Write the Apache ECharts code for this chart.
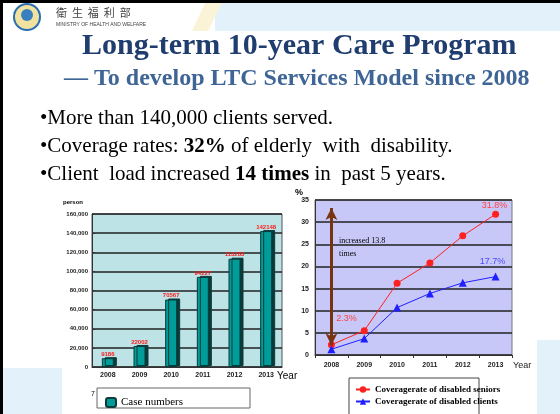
<!DOCTYPE html>
<html>
<head>
<meta charset="utf-8">
<script src="https://cdn.jsdelivr.net/npm/echarts@6/dist/echarts.min.js"></script>
<style>
  html, body { margin: 0; padding: 0; background: #fff; }
  #main { width: 560px; height: 414px; }
</style>
</head>
<body>
<div id="main"></div>
<script>
// data
const years = ['2008', '2009', '2010', '2011', '2012', '2013'];
const caseNumbers = [9186, 22002, 70567, 94227, 113283, 142148];
const seniorRate = [2.3, 5.5, 16.2, 20.8, 26.9, 31.8];
const clientRate = [1.3, 3.7, 10.7, 13.9, 16.3, 17.7];
const caseTicks = [0, 20000, 40000, 60000, 80000, 100000, 120000, 140000, 160000];
const rateTicks = [0, 5, 10, 15, 20, 25, 30, 35];

const serif = '"Liberation Serif", "DejaVu Serif", serif';
const sans = '"Liberation Sans", Arial, sans-serif';

let myChart = echarts.init(document.getElementById('main'));

myChart.setOption({
    animation: false,
    backgroundColor: '#ffffff',
    graphic: [
        // slide decorations
        {type: 'rect', shape: {x: 215, y: 3, width: 345, height: 28}, style: {fill: '#E3F1FB'}, z: -10},
        {type: 'polygon', shape: {points: [[205, 3], [222, 3], [208, 31], [192, 31]]}, style: {fill: '#FBF3D8'}, z: -9},
        {type: 'rect', shape: {x: 537, y: 340, width: 23, height: 74}, style: {fill: '#E3F1FB'}, z: -10},
        {type: 'rect', shape: {x: 0, y: 368, width: 62, height: 46}, style: {fill: '#E3F1FB'}, z: -10},
        {type: 'rect', shape: {x: 0, y: 0, width: 560, height: 3}, style: {fill: '#000'}},
        {type: 'rect', shape: {x: 0, y: 0, width: 3, height: 414}, style: {fill: '#000'}},
        // logo
        {type: 'circle', shape: {cx: 27, cy: 17, r: 13}, style: {fill: '#F2E2A0', stroke: '#2A6FB0', lineWidth: 2}},
        {type: 'circle', shape: {cx: 27, cy: 15, r: 6}, style: {fill: '#3A7FC0'}},
        {type: 'text', left: 56, top: 7, style: {text: '衛  生  福  利  部', font: '11px "Noto Sans CJK TC"', fill: '#444'}},
        {type: 'text', left: 56, top: 22, style: {text: 'MINISTRY OF HEALTH AND WELFARE', font: '5px ' + sans, fill: '#444'}},
        // titles
        {type: 'text', left: 82, top: 31, style: {text: 'Long-term 10-year Care Program', font: 'bold 30px ' + serif, fill: '#1F3D6E'}},
        {type: 'text', left: 64, top: 67, style: {text: '\u2014 To develop LTC Services Model since 2008', font: 'bold 24px ' + serif, fill: '#3E6595'}},
        // bullets
        {type: 'text', left: 40, top: 108, style: {rich: {n: {font: '21px ' + serif, fill: '#000'}},
            text: '{n|\u2022More than 140,000 clients served.}'}},
        {type: 'text', left: 40, top: 136, style: {rich: {n: {font: '21px ' + serif, fill: '#000'}, b: {font: 'bold 21px ' + serif, fill: '#000'}},
            text: '{n|\u2022Coverage rates: }{b|32%}{n| of elderly  with  disability.}'}},
        {type: 'text', left: 40, top: 164, style: {rich: {n: {font: '21px ' + serif, fill: '#000'}, b: {font: 'bold 21px ' + serif, fill: '#000'}},
            text: '{n|\u2022Client  load increased }{b|14 times}{n| in  past 5 years.}'}},
        // axis names
        {type: 'text', left: 63, top: 199, style: {text: 'person', font: 'bold 6px ' + sans, fill: '#000'}},
        {type: 'text', left: 277, top: 371, style: {text: 'Year', font: '10px ' + sans, fill: '#000'}},
        {type: 'text', left: 295, top: 188, style: {text: '%', font: 'bold 9px ' + sans, fill: '#000'}},
        {type: 'text', left: 513, top: 361, style: {text: 'Year', font: '9px ' + sans, fill: '#222'}},
        // annotation
        {type: 'text', left: 339, top: 234, style: {text: 'increased 13.8\ntimes', font: '8px ' + serif, fill: '#000', lineHeight: 13}},
        // legend boxes
        {type: 'rect', shape: {x: 97, y: 388, width: 153, height: 20}, style: {fill: '#fff', stroke: '#666', lineWidth: 1}},
        {type: 'text', left: 91, top: 391, style: {text: '7', font: '7px ' + sans, fill: '#000'}},
        {type: 'rect', shape: {x: 349, y: 378, width: 130, height: 40}, style: {fill: '#fff', stroke: '#444', lineWidth: 1}}
    ],
    grid: [
        {left: 92, top: 214, width: 190, height: 153, show: true, backgroundColor: '#BDE3E6', borderColor: '#555'},
        {left: 315, top: 200, width: 197, height: 155, show: true, backgroundColor: '#C8C8F8', borderColor: '#777'}
    ],
    legend: [
        {
            data: ['Case numbers'],
            left: 100, top: 392,
            itemWidth: 10, itemHeight: 9,
            textStyle: {fontFamily: serif, fontSize: 11, color: '#000'}
        },
        {
            data: ['Coveragerate of disabled seniors', 'Coveragerate of disabled clients'],
            left: 350, top: 380, orient: 'vertical',
            itemGap: 3, itemWidth: 14, itemHeight: 8,
            textStyle: {fontFamily: serif, fontSize: 9, fontWeight: 'bold', color: '#000'}
        }
    ],
    xAxis: [
        {
            type: 'category', gridIndex: 0, data: years,
            axisLine: {lineStyle: {color: '#333'}},
            axisTick: {show: false},
            axisLabel: {fontSize: 7, fontWeight: 'bold', color: '#222', margin: 5, fontFamily: sans}
        },
        {
            type: 'category', gridIndex: 1, data: years,
            axisLine: {lineStyle: {color: '#333'}},
            axisTick: {show: true, alignWithLabel: false, length: 3, lineStyle: {color: '#333'}},
            axisLabel: {fontSize: 7, fontWeight: 'bold', color: '#222', margin: 7, fontFamily: sans}
        }
    ],
    yAxis: [
        {
            type: 'value', gridIndex: 0, min: caseTicks[0], max: caseTicks[caseTicks.length - 1], interval: 20000,
            axisLine: {show: true, lineStyle: {color: '#333'}},
            axisTick: {show: true, length: 3, inside: true},
            splitLine: {lineStyle: {color: '#222', width: 1.5}},
            axisLabel: {fontSize: 6, fontWeight: 'bold', color: '#222', margin: 4, fontFamily: sans}
        },
        {
            type: 'value', gridIndex: 1, min: rateTicks[0], max: rateTicks[rateTicks.length - 1], interval: 5,
            axisLine: {show: true, lineStyle: {color: '#333'}},
            axisTick: {show: false},
            splitLine: {lineStyle: {color: '#222', width: 1.5}},
            axisLabel: {fontSize: 7, fontWeight: 'bold', color: '#222', margin: 6, fontFamily: sans}
        }
    ],
    series: [
        {
            name: 'Case numbers', type: 'bar', xAxisIndex: 0, yAxisIndex: 0,
            data: caseNumbers, barWidth: 12,
            itemStyle: {color: '#009C99', borderColor: '#0B3A3A', borderWidth: 1,
                shadowColor: '#0B3A3A', shadowOffsetX: 3, shadowOffsetY: -1},
            label: {show: true, position: 'top', distance: 1, fontSize: 6, fontWeight: 'bold', color: '#FF1A1A', fontFamily: sans}
        },
        {
            name: 'Coveragerate of disabled seniors', type: 'line', xAxisIndex: 1, yAxisIndex: 1,
            data: seniorRate.map((v, i) => {
                const d = {value: v};
                if (i === 0) d.label = {show: true, formatter: '{c}%', offset: [15, -13]};
                if (i === 5) d.label = {show: true, formatter: '{c}%', offset: [-1, 4]};
                return d;
            }),
            symbol: 'circle', symbolSize: 7,
            lineStyle: {color: '#FF2020', width: 1},
            itemStyle: {color: '#FF2020'},
            label: {show: false, position: 'top', fontSize: 9, color: '#FF4040', fontFamily: sans},
            markLine: {
                silent: true, symbol: ['arrow', 'arrow'], symbolSize: [9, 12],
                label: {show: false},
                lineStyle: {color: '#7A3310', width: 3, type: 'solid'},
                data: [[{coord: ['2008', 2.2]}, {coord: ['2008', 33.2]}]]
            }
        },
        {
            name: 'Coveragerate of disabled clients', type: 'line', xAxisIndex: 1, yAxisIndex: 1,
            data: clientRate.map((v, i) => {
                const d = {value: v};
                if (i === 5) d.label = {show: true, formatter: '{c}%', offset: [-3, -2]};
                return d;
            }),
            symbol: 'triangle', symbolSize: 8,
            lineStyle: {color: '#2020FF', width: 1},
            itemStyle: {color: '#2020FF'},
            label: {show: false, position: 'top', fontSize: 9, color: '#4A4AFF', fontFamily: sans}
        }
    ]
});
</script>
</body>
</html>
